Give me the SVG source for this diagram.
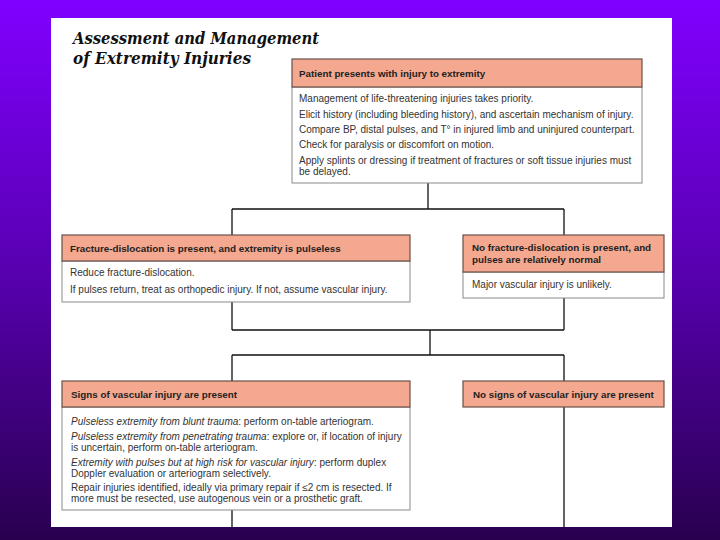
<svg xmlns="http://www.w3.org/2000/svg" width="720" height="540" viewBox="0 0 720 540">
<defs>
<linearGradient id="bg" x1="0" y1="0" x2="0" y2="1">
<stop offset="0" stop-color="#8000ff"/>
<stop offset="0.5" stop-color="#5800b0"/>
<stop offset="1" stop-color="#28004f"/>
</linearGradient>
</defs>
<style>
.hd{fill:#f4a88f;stroke:#6a5048;stroke-width:1.2}
.bd{fill:#ffffff;stroke:#8a8a8a;stroke-width:1}
.ht{font-family:"Liberation Sans",Arial,sans-serif;font-weight:bold;font-size:9.8px;fill:#222}
.bt{font-family:"Liberation Sans",Arial,sans-serif;font-size:10px;fill:#333}
.it{font-style:italic}
.title{font-family:"DejaVu Serif","Liberation Serif",serif;font-weight:bold;font-style:italic;font-size:17px;fill:#111}
.cn{fill:none;stroke:#111;stroke-width:1.3}
</style>
<rect x="0" y="0" width="720" height="540" fill="url(#bg)"/>
<rect x="51" y="18" width="621" height="509" fill="#ffffff"/>
<g id="title">
<text class="title" x="73" y="44" textLength="246" lengthAdjust="spacingAndGlyphs">Assessment and Management</text>
<text class="title" x="73" y="64" textLength="178" lengthAdjust="spacingAndGlyphs">of Extremity Injuries</text>
</g>
<g id="connectors">
<path class="cn" d="M428 183 V209 M232 209 H564 M232 209 V235 M564 209 V235"/>
<path class="cn" d="M232 302 V330 M564 298 V330 M232 330 H564 M430 330 V355 M232 355 H564 M232 355 V381 M564 355 V381"/>
<path class="cn" d="M232 510 V527 M564 407 V527"/>
</g>
<g id="node-patient">
<rect class="bd" x="292" y="87" width="350" height="96"/>
<rect class="hd" x="292" y="59" width="350" height="28"/>
<text class="ht" x="299" y="77">Patient presents with injury to extremity</text>
<text class="bt" x="299" y="102">Management of life-threatening injuries takes priority.</text>
<text class="bt" x="299" y="118">Elicit history (including bleeding history), and ascertain mechanism of injury.</text>
<text class="bt" x="299" y="133">Compare BP, distal pulses, and T° in injured limb and uninjured counterpart.</text>
<text class="bt" x="299" y="148">Check for paralysis or discomfort on motion.</text>
<text class="bt" x="299" y="164">Apply splints or dressing if treatment of fractures or soft tissue injuries must</text>
<text class="bt" x="299" y="175">be delayed.</text>
</g>
<g id="node-pulseless">
<rect class="bd" x="62" y="261" width="348" height="41"/>
<rect class="hd" x="62" y="235" width="348" height="26"/>
<text class="ht" x="70" y="252">Fracture-dislocation is present, and extremity is pulseless</text>
<text class="bt" x="70" y="276">Reduce fracture-dislocation.</text>
<text class="bt" x="70" y="293">If pulses return, treat as orthopedic injury. If not, assume vascular injury.</text>
</g>
<g id="node-normal">
<rect class="bd" x="463" y="272" width="201" height="26"/>
<rect class="hd" x="463" y="235" width="201" height="37"/>
<text class="ht" x="472" y="251">No fracture-dislocation is present, and</text>
<text class="ht" x="472" y="263">pulses are relatively normal</text>
<text class="bt" x="472" y="288">Major vascular injury is unlikely.</text>
</g>
<g id="node-signs">
<rect class="bd" x="62" y="407" width="348" height="103"/>
<rect class="hd" x="62" y="381" width="348" height="26"/>
<text class="ht" x="71" y="398">Signs of vascular injury are present</text>
<text class="bt" x="71" y="425"><tspan class="it">Pulseless extremity from blunt trauma</tspan>: perform on-table arteriogram.</text>
<text class="bt" x="71" y="440"><tspan class="it">Pulseless extremity from penetrating trauma</tspan>: explore or, if location of injury</text>
<text class="bt" x="71" y="451">is uncertain, perform on-table arteriogram.</text>
<text class="bt" x="71" y="466"><tspan class="it">Extremity with pulses but at high risk for vascular injury</tspan>: perform duplex</text>
<text class="bt" x="71" y="477">Doppler evaluation or arteriogram selectively.</text>
<text class="bt" x="71" y="491">Repair injuries identified, ideally via primary repair if ≤2 cm is resected. If</text>
<text class="bt" x="71" y="502">more must be resected, use autogenous vein or a prosthetic graft.</text>
</g>
<g id="node-nosigns">
<rect class="hd" x="463" y="381" width="201" height="26"/>
<text class="ht" x="473" y="398">No signs of vascular injury are present</text>
</g>
</svg>
